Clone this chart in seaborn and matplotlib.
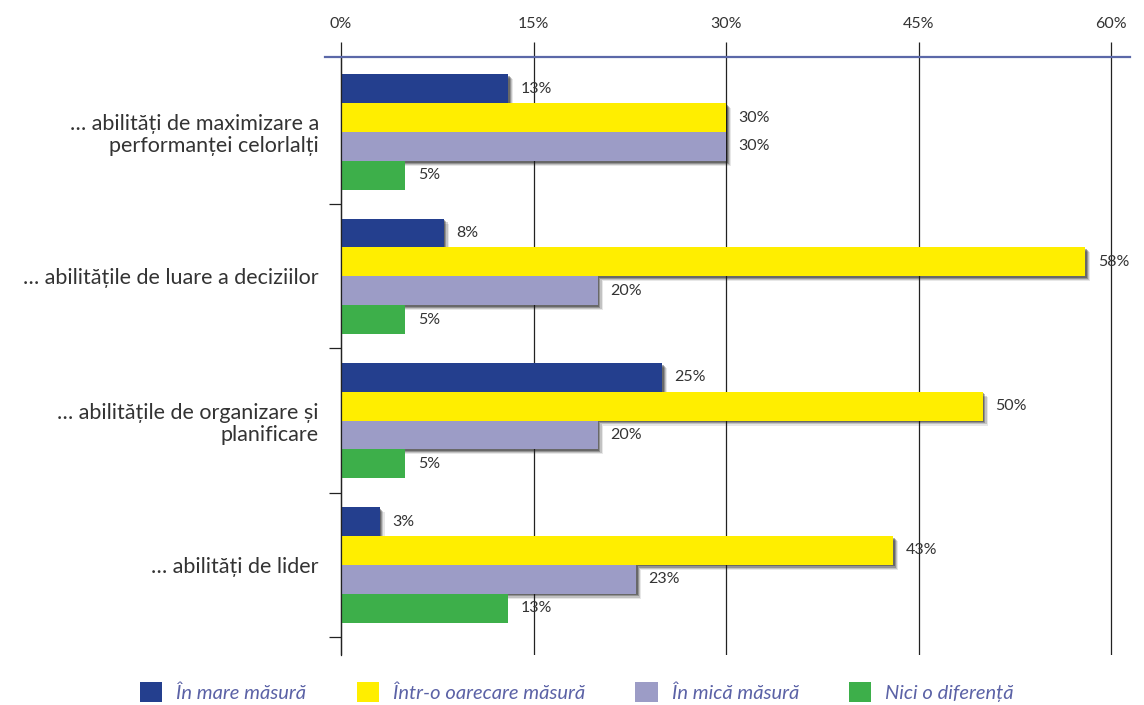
import matplotlib
matplotlib.use("Agg")
import matplotlib.pyplot as plt
import matplotlib.patheffects as pe
from matplotlib.patches import Patch
import seaborn as sns
import pandas as pd

# Skill areas (rows) and answer options (series)
categories = [
    "… abilități de maximizare a\nperformanței celorlalți",
    "… abilitățile de luare a deciziilor",
    "… abilitățile de organizare și\nplanificare",
    "… abilități de lider",
]
series = ["În mare măsură", "Într-o oarecare măsură", "În mică măsură", "Nici o diferență"]

mare = [13, 8, 25, 3]
oarecare = [30, 58, 50, 43]
mica = [30, 20, 20, 23]
nici = [5, 5, 5, 13]

x_ticks = [0, 15, 30, 45, 60]
x_tick_labels = ["0%", "15%", "30%", "45%", "60%"]

colors = ["#243f8e", "#ffee00", "#9c9cc6", "#3daf4a"]

rows = []
for s, vals in zip(series, [mare, oarecare, mica, nici]):
    for c, v in zip(categories, vals):
        rows.append({"categorie": c, "raspuns": s, "procent": v})
df = pd.DataFrame(rows)

sns.set_theme(style="white")
plt.rcParams["font.family"] = ["Lato", "DejaVu Sans"]
text_color = "#333333"

fig = plt.figure(figsize=(11.44, 7.05), dpi=100)
ax = fig.add_axes([325 / 1144, 1 - 655 / 705, (1130 - 325) / 1144, (655 - 57) / 705])

sns.barplot(
    data=df, y="categorie", x="procent", hue="raspuns",
    order=categories, hue_order=series,
    palette=dict(zip(series, colors)), orient="h",
    width=0.8, saturation=1, legend=False, ax=ax, linewidth=0,
)

# soft drop shadow on the first three series
shadow = [
    pe.SimplePatchShadow(offset=(3.6, -3.6), shadow_rgbFace="k", alpha=0.10),
    pe.SimplePatchShadow(offset=(2.8, -2.8), shadow_rgbFace="k", alpha=0.18),
    pe.SimplePatchShadow(offset=(2.0, -2.0), shadow_rgbFace="k", alpha=0.28),
    pe.SimplePatchShadow(offset=(1.2, -1.2), shadow_rgbFace="k", alpha=0.35),
    pe.Normal(),
]
for i, (cont, vals) in enumerate(zip(ax.containers, [mare, oarecare, mica, nici])):
    if i < 3:
        for bar in cont:
            bar.set_path_effects(shadow)
    ax.bar_label(cont, labels=[f"{v}%" for v in vals], padding=9,
                 fontsize=11.5, color=text_color)

ax.set_xlim(-1.25, 61.48)
ax.set_ylim(3.625, -0.52)

# x axis on top
ax.xaxis.set_ticks_position("top")
ax.xaxis.set_label_position("top")
ax.set_xticks(x_ticks)
ax.set_xticklabels(x_tick_labels)
ax.tick_params(axis="x", which="major", direction="out", length=11, width=0.9,
               color="#222222", pad=8, labelsize=11.5, labelcolor=text_color,
               top=True, bottom=False)
ax.grid(axis="x", color="#222222", linewidth=0.9)
ax.grid(axis="y", visible=False)
ax.set_axisbelow(True)

# y axis: category labels and separator ticks at the zero line
ax.spines["left"].set_position(("data", 0))
ax.spines["left"].set_color("#222222")
ax.spines["left"].set_linewidth(0.9)
ax.spines["top"].set_color("#5b68a8")
ax.spines["top"].set_linewidth(1.6)
ax.spines["right"].set_visible(False)
ax.spines["bottom"].set_visible(False)

ax.set_yticks(range(len(categories)))
ax.set_yticklabels(categories, linespacing=1.15)
ax.set_yticks([0.5, 1.5, 2.5, 3.5], minor=True)
ax.tick_params(axis="y", which="major", length=0, pad=16, labelsize=15.5,
               labelcolor=text_color, left=True)
ax.tick_params(axis="y", which="minor", length=8.5, width=0.9, color="#222222",
               direction="out", left=True)
for lbl in ax.get_yticklabels():
    lbl.set_horizontalalignment("right")
ax.set_xlabel("")
ax.set_ylabel("")

handles = [Patch(facecolor=c, edgecolor="none") for c in colors]
leg = fig.legend(
    handles, series, loc="center", bbox_to_anchor=(577 / 1144, 1 - 692 / 705),
    ncol=4, frameon=False, handlelength=1.1, handleheight=1.1,
    handletextpad=0.7, columnspacing=2.5,
    prop={"style": "italic", "size": 14.5},
)
for t in leg.get_texts():
    t.set_color("#5b62a6")

fig.savefig("out.png", dpi=100)
